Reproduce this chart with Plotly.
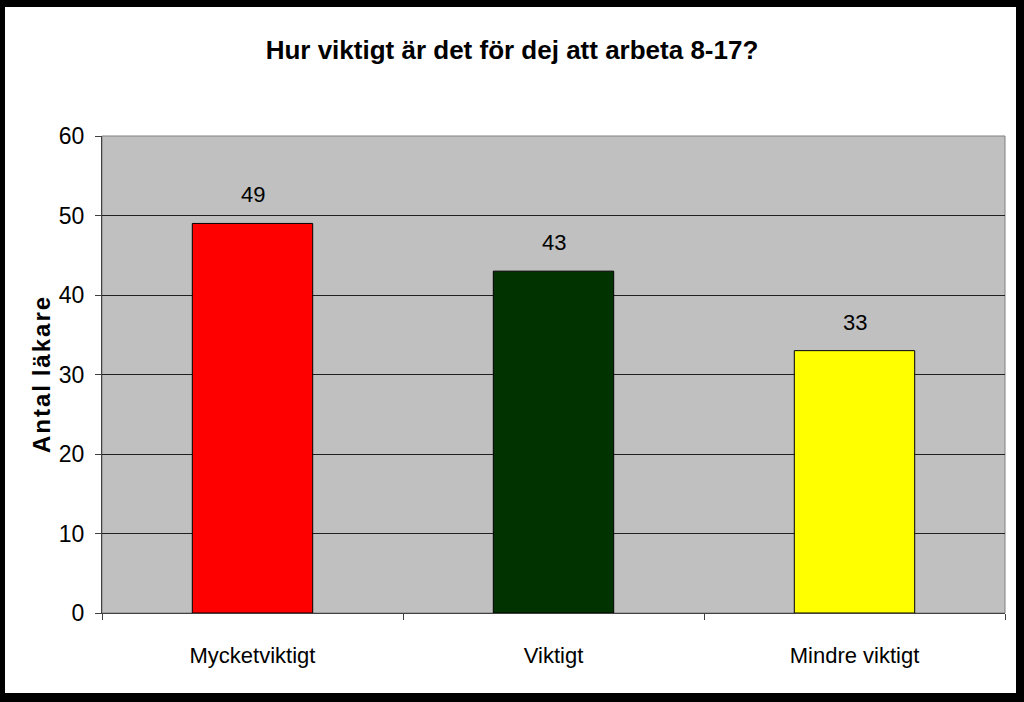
import plotly.graph_objects as go

categories = ["Mycketviktigt", "Viktigt", "Mindre viktigt"]
values = [49, 43, 33]
bar_colors = ["#FF0000", "#003300", "#FFFF00"]
y_ticks = [0, 10, 20, 30, 40, 50, 60]

FONT = "Liberation Sans, Arial, sans-serif"

W, H = 1024, 702
L, R, T, B = 102, 1005, 136, 613
pw, ph = R - L, B - T

fig = go.Figure()
fig.add_trace(go.Bar(
    x=categories, y=values,
    marker=dict(color=bar_colors, line=dict(color="black", width=1)),
    width=0.4,
))

def px_x(p):
    return (p - L) / pw

def px_y(p):
    return (B - p) / ph

shapes = []
for (x0, y0, x1, y1) in [(0, 0, 5, H), (0, 0, W, 7), (1016, 0, W, H), (0, 693, W, H)]:
    shapes.append(dict(type="rect", xref="paper", yref="paper",
                       x0=px_x(x0), x1=px_x(x1), y0=px_y(y1), y1=px_y(y0),
                       fillcolor="black", line=dict(width=0), layer="above"))
shapes.append(dict(type="rect", xref="paper", yref="paper", x0=0, x1=1, y0=0, y1=1,
                   line=dict(color="#808080", width=1), fillcolor="rgba(0,0,0,0)", layer="below"))

annotations = [dict(
    x=c, y=v, xref="x", yref="y", text=str(v), showarrow=False,
    xanchor="center", yanchor="bottom", yshift=14,
    font=dict(family=FONT, size=22, color="black"),
) for c, v in zip(categories, values)]

hs = "\u200a"
ylabel = hs.join(list("Antal")) + " " + hs + hs.join(list("läkare"))
annotations.append(dict(
    text="<b>" + ylabel + "</b>",
    xref="paper", yref="paper",
    x=px_x(41), y=px_y(375),
    xanchor="center", yanchor="middle",
    textangle=-90, showarrow=False,
    font=dict(family=FONT, size=24, color="black"),
))

fig.update_layout(
    width=W, height=H,
    margin=dict(l=L, r=W - R, t=T, b=H - B),
    paper_bgcolor="white",
    plot_bgcolor="#C0C0C0",
    showlegend=False,
    title=dict(text="<b>Hur viktigt är det för dej att arbeta 8-17?</b>",
               font=dict(family=FONT, size=26, color="black"),
               x=0.5, xref="container", xanchor="center",
               y=1 - 50 / H, yref="container", yanchor="middle"),
    xaxis=dict(
        type="category",
        showgrid=False,
        showline=True, linecolor="#404040", linewidth=1,
        ticks="outside", tickson="boundaries", ticklen=6, tickcolor="#404040",
        tickfont=dict(family=FONT, size=22, color="black"),
        ticklabelstandoff=23,
    ),
    yaxis=dict(
        range=[0, 60],
        tickvals=y_ticks,
        showgrid=True, gridcolor="#202020", gridwidth=1,
        zeroline=False,
        showline=True, linecolor="#404040", linewidth=1,
        ticks="outside", ticklen=6, tickcolor="#404040",
        tickfont=dict(family=FONT, size=23, color="black"),
        ticklabelstandoff=6,
    ),
    shapes=shapes,
    annotations=annotations,
)

fig.write_html("out.html")
